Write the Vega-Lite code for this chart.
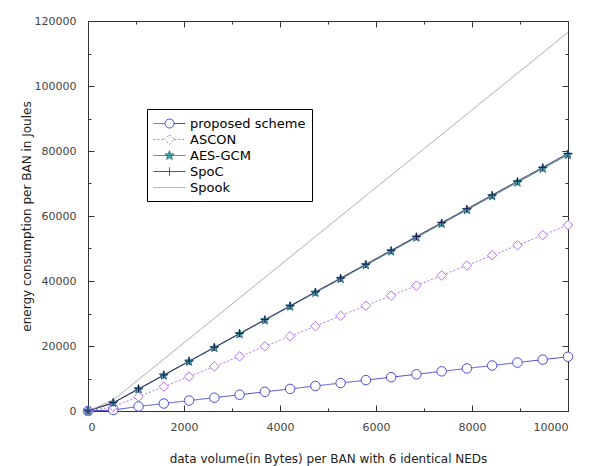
{
  "$schema": "https://vega.github.io/schema/vega-lite/v6.json",
  "width": 480,
  "height": 390,
  "autosize": {"type": "none"},
  "padding": {"left": 88, "top": 21, "right": 21, "bottom": 55},
  "background": "white",
  "config": {
    "view": {"stroke": null},
    "font": "DejaVu Sans",
    "axis": {"domainColor": "#333", "tickColor": "#333", "labelColor": "#444", "labelFont": "DejaVu Sans", "titleFont": "DejaVu Sans", "titleFontWeight": "normal", "titleColor": "#222", "grid": false}
  },
  "data": {"values": [
    {"bytes": 0, "energy": 0, "series": "proposed scheme"},
    {"bytes": 526, "energy": 300, "series": "proposed scheme"},
    {"bytes": 1053, "energy": 1400, "series": "proposed scheme"},
    {"bytes": 1579, "energy": 2300, "series": "proposed scheme"},
    {"bytes": 2105, "energy": 3200, "series": "proposed scheme"},
    {"bytes": 2632, "energy": 4100, "series": "proposed scheme"},
    {"bytes": 3158, "energy": 5000, "series": "proposed scheme"},
    {"bytes": 3684, "energy": 5900, "series": "proposed scheme"},
    {"bytes": 4211, "energy": 6800, "series": "proposed scheme"},
    {"bytes": 4737, "energy": 7700, "series": "proposed scheme"},
    {"bytes": 5263, "energy": 8600, "series": "proposed scheme"},
    {"bytes": 5789, "energy": 9500, "series": "proposed scheme"},
    {"bytes": 6316, "energy": 10400, "series": "proposed scheme"},
    {"bytes": 6842, "energy": 11300, "series": "proposed scheme"},
    {"bytes": 7368, "energy": 12200, "series": "proposed scheme"},
    {"bytes": 7895, "energy": 13100, "series": "proposed scheme"},
    {"bytes": 8421, "energy": 14000, "series": "proposed scheme"},
    {"bytes": 8947, "energy": 14900, "series": "proposed scheme"},
    {"bytes": 9474, "energy": 15800, "series": "proposed scheme"},
    {"bytes": 10000, "energy": 16700, "series": "proposed scheme"},
    {"bytes": 0, "energy": 0, "series": "ASCON"},
    {"bytes": 526, "energy": 1300, "series": "ASCON"},
    {"bytes": 1053, "energy": 4400, "series": "ASCON"},
    {"bytes": 1579, "energy": 7500, "series": "ASCON"},
    {"bytes": 2105, "energy": 10600, "series": "ASCON"},
    {"bytes": 2632, "energy": 13700, "series": "ASCON"},
    {"bytes": 3158, "energy": 16800, "series": "ASCON"},
    {"bytes": 3684, "energy": 19900, "series": "ASCON"},
    {"bytes": 4211, "energy": 23000, "series": "ASCON"},
    {"bytes": 4737, "energy": 26100, "series": "ASCON"},
    {"bytes": 5263, "energy": 29300, "series": "ASCON"},
    {"bytes": 5789, "energy": 32400, "series": "ASCON"},
    {"bytes": 6316, "energy": 35500, "series": "ASCON"},
    {"bytes": 6842, "energy": 38600, "series": "ASCON"},
    {"bytes": 7368, "energy": 41700, "series": "ASCON"},
    {"bytes": 7895, "energy": 44800, "series": "ASCON"},
    {"bytes": 8421, "energy": 47900, "series": "ASCON"},
    {"bytes": 8947, "energy": 51000, "series": "ASCON"},
    {"bytes": 9474, "energy": 54100, "series": "ASCON"},
    {"bytes": 10000, "energy": 57200, "series": "ASCON"},
    {"bytes": 0, "energy": 0, "series": "AES-GCM"},
    {"bytes": 526, "energy": 2470, "series": "AES-GCM"},
    {"bytes": 1053, "energy": 6710, "series": "AES-GCM"},
    {"bytes": 1579, "energy": 10960, "series": "AES-GCM"},
    {"bytes": 2105, "energy": 15200, "series": "AES-GCM"},
    {"bytes": 2632, "energy": 19440, "series": "AES-GCM"},
    {"bytes": 3158, "energy": 23680, "series": "AES-GCM"},
    {"bytes": 3684, "energy": 27920, "series": "AES-GCM"},
    {"bytes": 4211, "energy": 32170, "series": "AES-GCM"},
    {"bytes": 4737, "energy": 36410, "series": "AES-GCM"},
    {"bytes": 5263, "energy": 40650, "series": "AES-GCM"},
    {"bytes": 5789, "energy": 44890, "series": "AES-GCM"},
    {"bytes": 6316, "energy": 49130, "series": "AES-GCM"},
    {"bytes": 6842, "energy": 53380, "series": "AES-GCM"},
    {"bytes": 7368, "energy": 57620, "series": "AES-GCM"},
    {"bytes": 7895, "energy": 61860, "series": "AES-GCM"},
    {"bytes": 8421, "energy": 66100, "series": "AES-GCM"},
    {"bytes": 8947, "energy": 70340, "series": "AES-GCM"},
    {"bytes": 9474, "energy": 74590, "series": "AES-GCM"},
    {"bytes": 10000, "energy": 78830, "series": "AES-GCM"},
    {"bytes": 0, "energy": 0, "series": "SpoC"},
    {"bytes": 526, "energy": 2560, "series": "SpoC"},
    {"bytes": 1053, "energy": 6820, "series": "SpoC"},
    {"bytes": 1579, "energy": 11080, "series": "SpoC"},
    {"bytes": 2105, "energy": 15340, "series": "SpoC"},
    {"bytes": 2632, "energy": 19600, "series": "SpoC"},
    {"bytes": 3158, "energy": 23860, "series": "SpoC"},
    {"bytes": 3684, "energy": 28120, "series": "SpoC"},
    {"bytes": 4211, "energy": 32380, "series": "SpoC"},
    {"bytes": 4737, "energy": 36640, "series": "SpoC"},
    {"bytes": 5263, "energy": 40900, "series": "SpoC"},
    {"bytes": 5789, "energy": 45160, "series": "SpoC"},
    {"bytes": 6316, "energy": 49420, "series": "SpoC"},
    {"bytes": 6842, "energy": 53680, "series": "SpoC"},
    {"bytes": 7368, "energy": 57940, "series": "SpoC"},
    {"bytes": 7895, "energy": 62200, "series": "SpoC"},
    {"bytes": 8421, "energy": 66460, "series": "SpoC"},
    {"bytes": 8947, "energy": 70720, "series": "SpoC"},
    {"bytes": 9474, "energy": 74980, "series": "SpoC"},
    {"bytes": 10000, "energy": 79240, "series": "SpoC"},
    {"bytes": 0, "energy": 0, "series": "Spook"},
    {"bytes": 526, "energy": 3380, "series": "Spook"},
    {"bytes": 1053, "energy": 9670, "series": "Spook"},
    {"bytes": 1579, "energy": 15950, "series": "Spook"},
    {"bytes": 2105, "energy": 22240, "series": "Spook"},
    {"bytes": 2632, "energy": 28520, "series": "Spook"},
    {"bytes": 3158, "energy": 34800, "series": "Spook"},
    {"bytes": 3684, "energy": 41090, "series": "Spook"},
    {"bytes": 4211, "energy": 47370, "series": "Spook"},
    {"bytes": 4737, "energy": 53660, "series": "Spook"},
    {"bytes": 5263, "energy": 59940, "series": "Spook"},
    {"bytes": 5789, "energy": 66220, "series": "Spook"},
    {"bytes": 6316, "energy": 72510, "series": "Spook"},
    {"bytes": 6842, "energy": 78790, "series": "Spook"},
    {"bytes": 7368, "energy": 85070, "series": "Spook"},
    {"bytes": 7895, "energy": 91360, "series": "Spook"},
    {"bytes": 8421, "energy": 97640, "series": "Spook"},
    {"bytes": 8947, "energy": 103920, "series": "Spook"},
    {"bytes": 9474, "energy": 110210, "series": "Spook"},
    {"bytes": 10000, "energy": 116490, "series": "Spook"}
  ]},
  "layer": [
    {
      "mark": {"type": "line", "strokeWidth": 1},
      "encoding": {
        "x": {"field": "bytes", "type": "quantitative", "scale": {"domain": [0, 10000], "nice": false},
          "axis": {"orient": "bottom", "title": "data volume(in Bytes) per BAN with 6 identical NEDs", "titleFontSize": 12, "titlePadding": 21,
            "values": [0,1000,2000,3000,4000,5000,6000,7000,8000,9000,10000], "format": "d",
            "labelExpr": "datum.value % 2000 === 0 ? datum.label : ''", "labelFontSize": 11, "labelPadding": 16,
            "tickSize": {"condition": {"test": "datum.value % 2000 === 0", "value": -6}, "value": -3}}},
        "y": {"field": "energy", "type": "quantitative", "scale": {"domain": [0, 120000], "nice": false},
          "axis": {"orient": "left", "title": "energy consumption per BAN  in Joules", "titleFontSize": 12, "titlePadding": 1,
            "values": [0,10000,20000,30000,40000,50000,60000,70000,80000,90000,100000,110000,120000], "format": "d",
            "labelExpr": "datum.value % 20000 === 0 ? datum.label : ''", "labelFontSize": 11, "labelPadding": 18,
            "tickSize": {"condition": {"test": "datum.value % 20000 === 0", "value": -6}, "value": -3}}},
        "stroke": {"field": "series", "type": "nominal",
          "scale": {"domain": ["proposed scheme", "ASCON", "AES-GCM", "SpoC", "Spook"], "range": ["#4a4ad8", "#b070f0", "#2f6f80", "#1a1a50", "#a0a0a0"]},
          "legend": {
            "orient": "none", "legendX": 59, "legendY": 88, "title": null,
            "strokeColor": "#000", "fillColor": "white", "padding": 6,
            "labelFont": "DejaVu Sans", "labelFontSize": 13, "labelColor": "#000", "labelOffset": 20,
            "symbolSize": 256, "rowPadding": 0, "symbolStrokeWidth": 1,
            "encode": {"symbols": {"update": {
              "shape": {"signal": "datum.value === 'proposed scheme' ? 'M-1,0L0.44,0M1.56,0L3,0M0.44,0A0.56,0.56 0 1,0 1.56,0A0.56,0.56 0 1,0 0.44,0' : datum.value === 'ASCON' ? 'M-1,0L0.4,0M1.6,0L3,0M1,-0.6L1.6,0L1,0.6L0.4,0Z' : datum.value === 'AES-GCM' ? 'M-1,0L3,0M1,-0.6L1.14,-0.2L1.57,-0.19L1.23,0.07L1.35,0.49L1,0.24L0.65,0.49L0.77,0.07L0.43,-0.19L0.86,-0.2Z' : datum.value === 'SpoC' ? 'M-1,0L3,0M1,-0.5L1,0.5' : 'M-1,0L3,0'"},
              "fill": {"signal": "datum.value === 'AES-GCM' ? '#48aab5' : 'transparent'"},
              "strokeDash": {"signal": "datum.value === 'ASCON' ? [2,2] : [1,0]"}
            }}}
          }},
        "strokeDash": {"field": "series", "type": "nominal", "legend": null,
          "scale": {"domain": ["proposed scheme", "ASCON", "AES-GCM", "SpoC", "Spook"], "range": [[1,0], [2,2], [1,0], [1,0], [1,0]]}}
      }
    },
    {
      "transform": [{"filter": "datum.series !== 'Spook'"}],
      "mark": {"type": "point", "size": 90, "strokeWidth": 1, "opacity": 1},
      "encoding": {
        "x": {"field": "bytes", "type": "quantitative", "axis": null},
        "y": {"field": "energy", "type": "quantitative", "axis": null},
        "stroke": {"field": "series", "type": "nominal"},
        "shape": {"field": "series", "type": "nominal", "legend": null,
          "scale": {"domain": ["proposed scheme", "ASCON", "AES-GCM", "SpoC"], "range": ["circle", "diamond", "M0,-1L0.24,-0.33L0.95,-0.31L0.38,0.12L0.59,0.81L0,0.4L-0.59,0.81L-0.38,0.12L-0.95,-0.31L-0.24,-0.33Z", "M-0.8,0L0.8,0M0,-0.8L0,0.8"]}},
        "fill": {"field": "series", "type": "nominal", "legend": null,
          "scale": {"domain": ["proposed scheme", "ASCON", "AES-GCM", "SpoC"], "range": ["white", "white", "#48aab5", "transparent"]}}
      }
    },
    {
      "mark": {"type": "line", "opacity": 0},
      "encoding": {
        "x": {"field": "bytes", "type": "quantitative",
          "axis": {"orient": "top", "title": null, "labels": false,
            "values": [0,1000,2000,3000,4000,5000,6000,7000,8000,9000,10000],
            "tickSize": {"condition": {"test": "datum.value % 2000 === 0", "value": -6}, "value": -3}}},
        "y": {"field": "energy", "type": "quantitative",
          "axis": {"orient": "right", "title": null, "labels": false,
            "values": [0,10000,20000,30000,40000,50000,60000,70000,80000,90000,100000,110000,120000],
            "tickSize": {"condition": {"test": "datum.value % 20000 === 0", "value": -6}, "value": -3}}},
        "detail": {"field": "series"}
      }
    }
  ],
  "resolve": {"axis": {"x": "independent", "y": "independent"}}
}
